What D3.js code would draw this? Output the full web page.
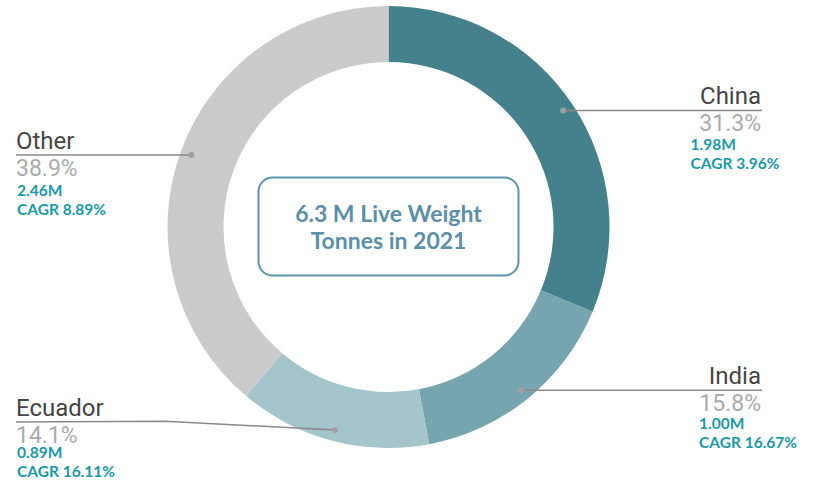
<!DOCTYPE html>
<html>
<head>
<meta charset="utf-8">
<script src="https://cdn.jsdelivr.net/npm/d3@7/dist/d3.min.js"></script>
<style>
  html, body { margin: 0; padding: 0; background: #fff; }
  svg { display: block; }
</style>
</head>
<body>
<svg id="chart" width="815" height="481"></svg>
<script>
// Shrimp production share by country, 2021
const countries = ["China", "India", "Ecuador", "Other"];
const shares = [31.3, 15.8, 14.1, 38.9];          // percent of total
const volumes = ["1.98M", "1.00M", "0.89M", "2.46M"]; // live weight tonnes
const cagr = ["3.96%", "16.67%", "16.11%", "8.89%"];
const colors = ["#45808d", "#76a4af", "#a4c5ca", "#cbcbcb"];
const centerLines = ["6.3 M Live Weight", "Tonnes in 2021"];

const data = countries.map((c, i) => ({
  country: c, share: shares[i], volume: volumes[i], cagr: cagr[i], color: colors[i]
}));

const svg = d3.select("#chart");
const cx = 388.5, cy = 227;
const outerR = 221, innerR = 165, dotR = 210;

const pie = d3.pie().value(d => d.share).sort(null);
const arc = d3.arc().innerRadius(innerR).outerRadius(outerR);
const dotArc = d3.arc().innerRadius(dotR).outerRadius(dotR);

const g = svg.append("g").attr("transform", `translate(${cx},${cy})`);
const arcs = pie(data);

g.selectAll("path.slice")
  .data(arcs)
  .join("path")
  .attr("class", "slice")
  .attr("d", arc)
  .attr("fill", d => d.data.color);

// Label placement: which side, where the leader line ends, and text offsets
const labelLayout = {
  China:   { side: "right", edge: 762, teal: 690.5, pct: 21, vol: 39.5, cg: 58.5 },
  India:   { side: "right", edge: 762, teal: 699,   pct: 20.5, vol: 39, cg: 58 },
  Ecuador: { side: "left",  edge: 16,  teal: 17,  lineY: 422, pct: 21, vol: 36, cg: 55 },
  Other:   { side: "left",  edge: 16,  teal: 17,  pct: 21, vol: 40.5, cg: 60 }
};

const labels = svg.append("g");

arcs.forEach(a => {
  const d = a.data;
  const L = labelLayout[d.country];
  const [dx, dy] = dotArc.centroid(a);
  const px = cx + dx, py = cy + dy;
  const ly = L.lineY !== undefined ? L.lineY : py;

  // leader line
  let pts;
  if (L.lineY !== undefined) {
    const elbow = L.side === "left" ? 165 : 600;
    pts = [[L.edge, ly], [elbow, ly - 0.8], [px, py]];
  } else {
    pts = [[L.edge, ly], [px, py]];
  }
  labels.append("path")
    .attr("d", d3.line()(pts))
    .attr("fill", "none")
    .attr("stroke", "#8a8a8a")
    .attr("stroke-width", 1.5);

  labels.append("circle")
    .attr("cx", px).attr("cy", py).attr("r", 3)
    .attr("fill", "#a0a0a0");

  const anchor = L.side === "right" ? "end" : "start";
  const tx = L.side === "right" ? L.edge - 1 : L.edge;

  labels.append("text")
    .attr("x", tx).attr("y", ly - 6.5)
    .attr("text-anchor", anchor)
    .attr("font-family", "Roboto, sans-serif")
    .attr("font-size", 24)
    .attr("fill", "#454545")
    .text(d.country);

  labels.append("text")
    .attr("x", tx).attr("y", ly + L.pct)
    .attr("text-anchor", anchor)
    .attr("font-family", "Roboto, sans-serif")
    .attr("font-size", 23)
    .attr("fill", "#ababab")
    .text(d.share.toFixed(1) + "%");

  labels.append("text")
    .attr("x", L.teal).attr("y", ly + L.vol)
    .attr("font-family", "Lato, sans-serif")
    .attr("font-weight", 700)
    .attr("font-size", 15.5)
    .attr("fill", "#1a99a6")
    .text(d.volume);

  labels.append("text")
    .attr("x", L.teal).attr("y", ly + L.cg)
    .attr("font-family", "Lato, sans-serif")
    .attr("font-weight", 700)
    .attr("font-size", 15.5)
    .attr("fill", "#1a99a6")
    .text("CAGR " + d.cagr);
});

// Centre callout box
const box = svg.append("g").attr("transform", `translate(${cx},${cy})`);
box.append("rect")
  .attr("x", -130).attr("y", -49.5)
  .attr("width", 260).attr("height", 98)
  .attr("rx", 14).attr("ry", 14)
  .attr("fill", "#fff")
  .attr("stroke", "#5b93ab")
  .attr("stroke-width", 2);

box.selectAll("text.center")
  .data(centerLines)
  .join("text")
  .attr("class", "center")
  .attr("x", 0)
  .attr("y", (d, i) => -5 + i * 27)
  .attr("text-anchor", "middle")
  .attr("font-family", "Lato, sans-serif")
  .attr("font-weight", 700)
  .attr("font-size", 23)
  .attr("fill", "#5c8fa8")
  .text(d => d);
</script>
</body>
</html>
